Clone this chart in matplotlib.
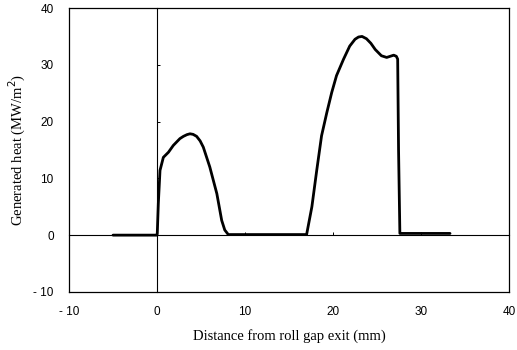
import matplotlib
matplotlib.use('Agg')
import matplotlib.pyplot as plt

# heat generation profile along the strip (mm, MW/m2)
dist = [-5.0, 0.0, 0.03, 0.15, 0.34, 0.72, 1.3, 1.85, 2.6, 3.0, 3.4, 3.75, 4.1, 4.5, 4.9,
        5.26, 6.0, 6.8, 7.35, 7.7, 8.1, 12.0, 17.0, 17.6, 18.15, 18.7, 19.3, 19.85, 20.4,
        21.2, 21.9, 22.5, 22.9, 23.3, 23.8, 24.3, 24.8, 25.5, 26.1, 26.5, 26.9, 27.2,
        27.35, 27.45, 27.6, 30.0, 33.3]
heat = [0.0, 0.0, 0.3, 5.6, 11.4, 13.7, 14.6, 15.8, 17.0, 17.4, 17.7, 17.85, 17.75, 17.4,
        16.6, 15.5, 12.0, 7.3, 2.6, 0.9, 0.1, 0.1, 0.1, 5.0, 11.4, 17.5, 21.6, 25.1, 28.1,
        31.0, 33.3, 34.5, 34.9, 35.0, 34.6, 33.8, 32.7, 31.6, 31.3, 31.5, 31.7, 31.5,
        31.0, 15.0, 0.3, 0.3, 0.3]

ticks = [-10, 0, 10, 20, 30, 40]
tick_text = ['- 10', '0', '10', '20', '30', '40']

fig = plt.figure(figsize=(5.17, 3.5), dpi=100)
pos = [0.1335, 0.166, 0.851, 0.811]

# outer frame carrying the tick labels
ax = fig.add_axes(pos)
ax.set_xlim(-10, 40)
ax.set_ylim(-10, 40)
ax.set_xticks(ticks)
ax.set_yticks(ticks)
ax.set_xticklabels(tick_text, family='Liberation Sans', fontsize=8.5)
ax.set_yticklabels(tick_text, family='Liberation Sans', fontsize=8.5)
ax.tick_params(axis='x', length=0, pad=10)
ax.tick_params(axis='y', length=0, pad=11)
for s in ax.spines.values():
    s.set_linewidth(0.9)
ax.set_xlabel('Distance from roll gap exit (mm)', family='Liberation Serif', fontsize=10.5, labelpad=8)
ax.set_ylabel('Generated heat (MW/m$^2$)', family='Liberation Serif', fontsize=10.5, labelpad=4)

# axes crossing at zero
ax2 = fig.add_axes(pos, facecolor='none')
ax2.set_xlim(-10, 40)
ax2.set_ylim(-10, 40)
ax2.spines['left'].set_position(('data', 0))
ax2.spines['bottom'].set_position(('data', 0))
ax2.spines['top'].set_visible(False)
ax2.spines['right'].set_visible(False)
for s in ['left', 'bottom']:
    ax2.spines[s].set_linewidth(0.8)
ax2.set_xticks([10, 20, 30])
ax2.set_yticks([10, 20, 30])
ax2.tick_params(direction='in', length=2.5, width=0.7, labelbottom=False, labelleft=False)

ax2.plot(dist, heat, color='black', lw=2.0, solid_joinstyle='round', solid_capstyle='round')

fig.savefig('out.png', dpi=100)
